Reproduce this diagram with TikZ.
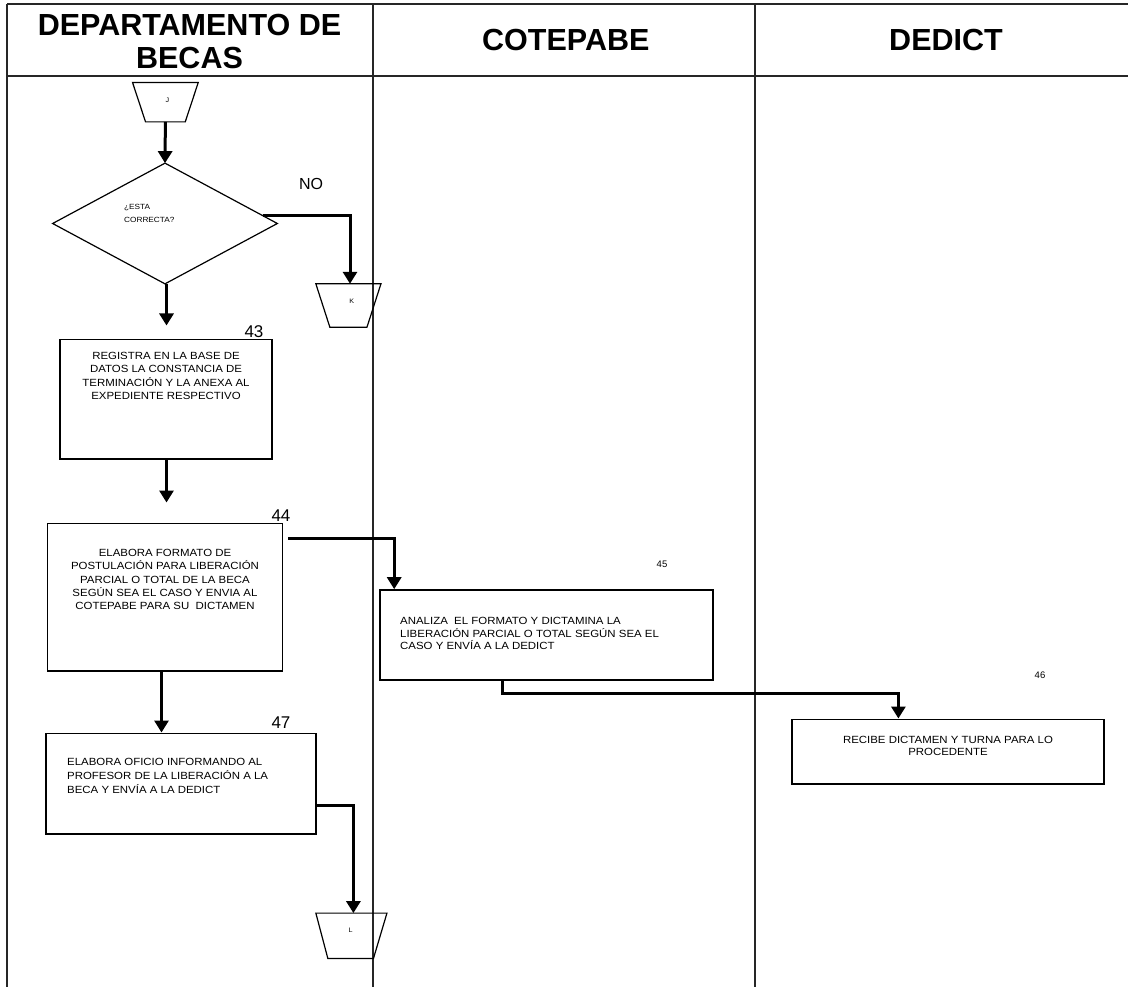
\documentclass[tikz,border=0pt]{standalone}
\usepackage{fontspec}
\setmainfont{Liberation Sans}
\newfontfamily\boxfont[FakeStretch=1.1]{Liberation Sans}
\usetikzlibrary{arrows.meta,calc}
\tikzset{
  lane/.style={line width=1.2pt, draw=black!85},
  box/.style={draw, line width=1.6pt, rectangle, inner sep=0pt},
  ghost/.style={rectangle, inner sep=0pt},
  shp/.style={line width=1.2pt},
  arrow/.style={line width=3pt, -{Triangle[length=12pt,width=14pt]}},
  head/.style={font=\bfseries\fontsize{30.5}{33.3}\selectfont, inner sep=0pt, align=center, anchor=north},
  btxt/.style={font=\boxfont\fontsize{10.4}{13.2}\selectfont, inner sep=0pt},
  ctxt/.style={font=\boxfont\fontsize{6.5}{7}\selectfont, inner sep=0pt},
  bignum/.style={font=\fontsize{17}{18}\selectfont, inner sep=0pt},
  smallnum/.style={font=\fontsize{9.5}{10}\selectfont, inner sep=0pt}
}
\begin{document}
\begin{tikzpicture}[x=1pt,y=-1pt]
\useasboundingbox[fill=white] (0,0) rectangle (1128,987);
% lanes
\draw[lane] (7,4) -- (1128,4);
\draw[lane] (7,76) -- (1128,76);
\draw[lane] (7,4) -- (7,987);
\draw[lane] (373,4) -- (373,987);
\draw[lane] (755,4) -- (755,987);
% headers
\node[head] (h1) at (189.5,14) {DEPARTAMENTO DE\\BECAS};
\node[head] (h2) at (565.8,29.3) {COTEPABE};
\node[head] (h3) at (946,29.3) {DEDICT};
% connector J
\node[ghost, minimum width=65.3pt, minimum height=39pt] (J) at (165.4,102.2) {};
\draw[shp] (J.north west) -- (J.north east) -- ($(J.south east)+(-13,0)$) -- ($(J.south west)+(13,0)$) -- cycle;
\node[ctxt] (Jt) at (167.5,100) {J};
% diamond
\node[ghost, minimum width=224.3pt, minimum height=120.3pt] (dia) at (165,223.5) {};
\draw[shp] (dia.north) -- (dia.east) -- (dia.south) -- (dia.west) -- cycle;
\node[btxt, font=\boxfont\fontsize{7.5}{13.5}\selectfont, align=left, anchor=north west] (diat) at (124,204) {¿ESTA\\CORRECTA?};
% connector K
\node[ghost, minimum width=64.7pt, minimum height=43pt] (K) at (348.4,305.5) {};
\draw[shp] (K.north west) -- (K.north east) -- ($(K.south east)+(-14,0)$) -- ($(K.south west)+(14,0)$) -- cycle;
\node[ctxt] (Kt) at (351.7,301.7) {K};
\node[bignum, font=\fontsize{16}{17}\selectfont] (no) at (311,184) {NO};
% boxes
\node[box, minimum width=212pt, minimum height=119.7pt] (b43) at (166,399.15) {};
\node[btxt, align=center, anchor=north] (t43) at (166,352.3) {REGISTRA EN LA BASE DE\\DATOS LA CONSTANCIA DE\\TERMINACIÓN Y LA ANEXA AL\\EXPEDIENTE RESPECTIVO};
\node[bignum] (n43) at (254,331.5) {43};

\node[box, minimum width=235pt, minimum height=147.4pt] (b44) at (164.8,597) {};
\node[btxt, align=center, anchor=north, font=\boxfont\fontsize{10.4}{13.3}\selectfont] (t44) at (165,549) {ELABORA FORMATO DE\\POSTULACIÓN PARA LIBERACIÓN\\PARCIAL O TOTAL DE LA BECA\\SEGÚN SEA EL CASO Y ENVIA AL\\COTEPABE PARA SU\ \ DICTAMEN};
\node[bignum] (n44) at (281,516) {44};

\node[box, minimum width=332.7pt, minimum height=90pt] (b45) at (546.35,635) {};
\node[btxt, align=left, anchor=north west, font=\boxfont\fontsize{10.4}{12.6}\selectfont] (t45) at (400,617) {ANALIZA\ \ EL FORMATO Y DICTAMINA LA\\LIBERACIÓN PARCIAL O TOTAL SEGÚN SEA EL\\CASO Y ENVÍA A LA DEDICT};
\node[smallnum] (n45) at (662,564) {45};

\node[box, minimum width=312.3pt, minimum height=64.7pt] (b46) at (947.85,751.65) {};
\node[btxt, align=center, anchor=north, font=\boxfont\fontsize{10.4}{11.5}\selectfont] (t46) at (948,736.5) {RECIBE DICTAMEN Y TURNA PARA LO\\PROCEDENTE};
\node[smallnum] (n46) at (1040,675) {46};

\node[box, minimum width=270pt, minimum height=100.7pt] (b47) at (181,783.65) {};
\node[btxt, align=left, anchor=north west, font=\boxfont\fontsize{10.4}{13.8}\selectfont] (t47) at (67,758.5) {ELABORA OFICIO INFORMANDO AL\\PROFESOR DE LA LIBERACIÓN A LA\\BECA Y ENVÍA A LA DEDICT};
\node[bignum] (n47) at (281,723) {47};

% connector L
\node[ghost, minimum width=70.7pt, minimum height=45pt] (L) at (351.4,935.8) {};
\draw[shp] (L.north west) -- (L.north east) -- ($(L.south east)+(-13.5,0)$) -- ($(L.south west)+(12,0)$) -- cycle;
\node[ctxt] (Lt) at (350.7,930) {L};

% arrow end points
\coordinate (nos) at ($(dia.north)!0.87!(dia.east)$);
\coordinate (knorth) at ($(K.north)+(1.6,0)$);
\coordinate (ds) at ($(dia.south)+(1.5,0)$);
\coordinate (b43s) at ($(b43.south)+(0.5,0)$);
\coordinate (b44e) at ($(b44.north east)+(5,16)$);
\coordinate (b45n) at ($(b45.north west)+(15,0)$);
\coordinate (b45s) at ($(b45.south west)+(123,0)$);
\coordinate (b46n) at ($(b46.north west)+(107.5,0)$);
\coordinate (b44s) at ($(b44.south west)+(115,0)$);
\coordinate (b47e) at ($(b47.north east)+(0,73.4)$);
\coordinate (lnorth) at ($(L.north)+(2,0)$);
% arrows
\draw[arrow] (J.south) -- (dia.north);
\draw[arrow] (nos) -| (knorth);
\draw[arrow, shorten >=13pt] (ds) -- (ds |- b43.north);
\draw[arrow, shorten >=20pt] (b43s) -- (b43s |- b44.north);
\draw[arrow] (b44e) -| (b45n);
\draw[arrow] (b45s) -- ++(0,13) -| (b46n);
\draw[arrow] (b44s) -- (b44s |- b47.north);
\draw[arrow] (b47e) -| (lnorth);
\end{tikzpicture}
\end{document}
